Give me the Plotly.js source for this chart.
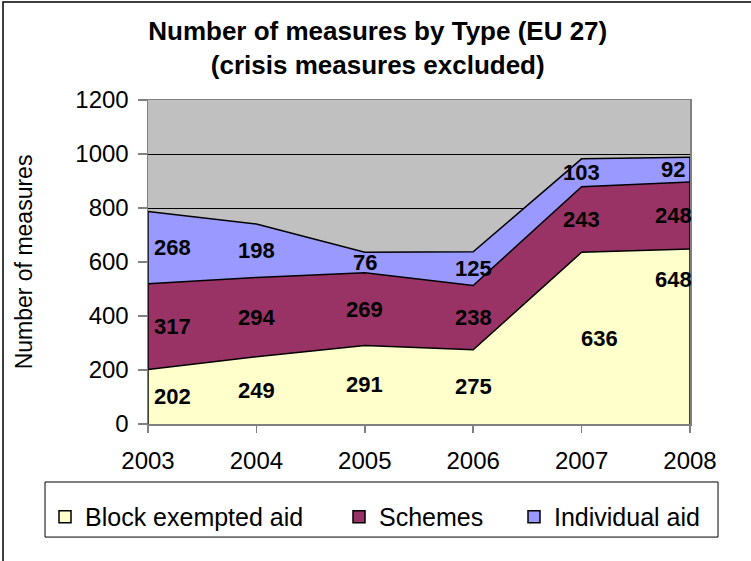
<!DOCTYPE html>
<html>
<head>
<meta charset="utf-8">
<script src="https://cdn.plot.ly/plotly-3.0.1.min.js"></script>
<style>
html,body{margin:0;padding:0;background:#fff;overflow:hidden;}
#chart{width:751px;height:561px;}
</style>
</head>
<body>
<div id="chart"></div>
<script>
const years = [2003, 2004, 2005, 2006, 2007, 2008];
const blockExempted = [202, 249, 291, 275, 636, 648];
const schemes = [317, 294, 269, 238, 243, 248];
const individual = [268, 198, 76, 125, 103, 92];
const seriesNames = ['Block exempted aid', 'Schemes', 'Individual aid'];
const seriesColors = ['#FFFFCC', '#993366', '#9999FF'];
const yTicks = [0, 200, 400, 600, 800, 1000, 1200];

const FONT = 'Liberation Sans, Arial, sans-serif';
const series = [blockExempted, schemes, individual];

const traces = series.map((vals, i) => ({
  type: 'scatter',
  x: years,
  y: vals,
  stackgroup: 'one',
  mode: 'lines',
  line: {color: '#000000', width: 1.5},
  fillcolor: seriesColors[i],
  name: seriesNames[i],
  showlegend: false,
  hoverinfo: 'x+y+name'
}));

// legend entries (square swatches like the original)
const legendIds = ['legend', 'legend2', 'legend3'];
series.forEach((vals, i) => {
  traces.push({
    type: 'scatter',
    x: [null], y: [null],
    mode: 'markers',
    marker: {symbol: 'square', size: 12, color: seriesColors[i], line: {color: '#000000', width: 1.5}},
    name: seriesNames[i],
    legend: legendIds[i],
    showlegend: true
  });
});

// data labels in the middle of each band
const annotations = [];
const cum = years.map(() => 0);
series.forEach((vals, si) => {
  vals.forEach((v, k) => {
    const mid = cum[k] + v / 2;
    let xshift = 0, yshift = 0;
    if (k === 0) xshift = 24;
    if (k === years.length - 1) xshift = -17;
    if (si === 0 && k === years.length - 1) yshift = 57;
    if (si === 0 && k === years.length - 2) xshift = 18;
    annotations.push({
      x: years[k], y: mid, xref: 'x', yref: 'y',
      text: String(v), showarrow: false,
      xshift: xshift, yshift: yshift,
      font: {family: FONT, size: 22, color: '#000000', weight: 'bold'}
    });
  });
  vals.forEach((v, k) => { cum[k] += v; });
});

const totals = cum;
const shapes = [
  // left and right edges of the stacked area
  {type: 'line', xref: 'x', yref: 'y', x0: years[0], x1: years[0], y0: 0, y1: totals[0],
   line: {color: '#000000', width: 1.5}},
  {type: 'line', xref: 'x', yref: 'y', x0: years[years.length-1], x1: years[years.length-1], y0: 0, y1: totals[totals.length-1],
   line: {color: '#000000', width: 1.5}},
  // legend box
  {type: 'rect', xref: 'paper', yref: 'paper', x0: -0.190, x1: 1.0517, y0: -0.349, y1: -0.179,
   line: {color: '#000000', width: 1}, fillcolor: 'rgba(0,0,0,0)', layer: 'above'},
  // chart outer border
  {type: 'rect', xref: 'paper', yref: 'paper', x0: -0.2675, x1: 2, y0: -1, y1: 1.3025,
   line: {color: '#000000', width: 1.5}, fillcolor: 'rgba(0,0,0,0)', layer: 'above'}
];

const legendCommon = {
  orientation: 'h', yanchor: 'middle', xanchor: 'left', y: -0.287,
  bgcolor: 'rgba(0,0,0,0)', borderwidth: 0,
  font: {family: FONT, size: 25, color: '#000000'}
};

const layout = {
  width: 751, height: 561,
  margin: {l: 148, r: 61, t: 100, b: 137, pad: 0},
  paper_bgcolor: '#FFFFFF',
  plot_bgcolor: '#C0C0C0',
  title: {
    text: '<b>Number of measures by Type (EU 27)<br>(crisis measures excluded)</b>',
    font: {family: FONT, size: 26, color: '#000000'},
    x: 0.503, xanchor: 'center', y: 0.928, yanchor: 'top'
  },
  xaxis: {
    range: [years[0], years[years.length-1]],
    tickvals: years, ticktext: years.map(String),
    showgrid: false, zeroline: false,
    showline: true, linecolor: '#808080', linewidth: 1.5, mirror: true,
    ticks: 'outside', ticklen: 7, tickcolor: '#808080', tickwidth: 1.5,
    ticklabelstandoff: 8,
    tickfont: {family: FONT, size: 24, color: '#000000'},
    fixedrange: true
  },
  yaxis: {
    range: [0, 1200],
    tickvals: yTicks, ticktext: yTicks.map(String),
    showgrid: true, gridcolor: '#000000', gridwidth: 1,
    zeroline: false,
    showline: true, linecolor: '#808080', linewidth: 1.5, mirror: true,
    ticks: 'outside', ticklen: 9, tickcolor: '#808080', tickwidth: 1.5,
    ticklabelstandoff: 4,
    tickfont: {family: FONT, size: 24, color: '#000000'},
    title: {text: 'Number of measures', font: {family: FONT, size: 23, color: '#000000'}, standoff: 36},
    fixedrange: true
  },
  legend: Object.assign({}, legendCommon, {x: (45 - 148) / 542}),
  legend2: Object.assign({}, legendCommon, {x: (339 - 148) / 542}),
  legend3: Object.assign({}, legendCommon, {x: (514 - 148) / 542}),
  annotations: annotations,
  shapes: shapes,
  showlegend: true
};

Plotly.newPlot('chart', traces, layout, {displayModeBar: false, staticPlot: true});
</script>
</body>
</html>
